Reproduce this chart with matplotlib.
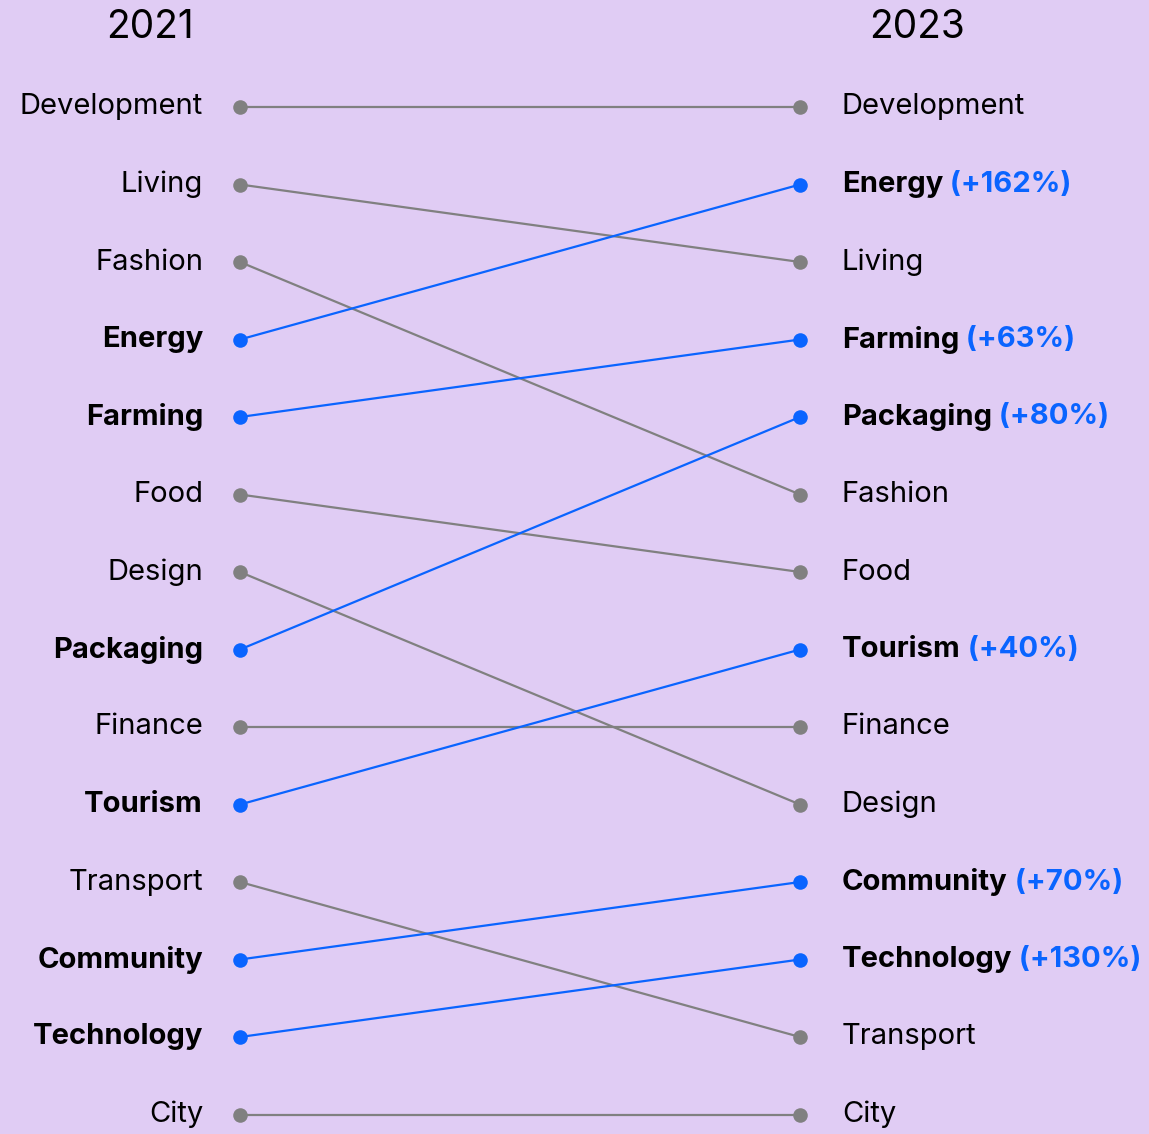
import matplotlib
matplotlib.use("Agg")
import matplotlib.pyplot as plt

# ---------------------------------------------------------------------------
# Data: rank order in each year, plus growth for the highlighted sectors
# ---------------------------------------------------------------------------
rank_2021 = ["Development", "Living", "Fashion", "Energy", "Farming", "Food",
             "Design", "Packaging", "Finance", "Tourism", "Transport",
             "Community", "Technology", "City"]
rank_2023 = ["Development", "Energy", "Living", "Farming", "Packaging",
             "Fashion", "Food", "Tourism", "Finance", "Design", "Community",
             "Technology", "Transport", "City"]
growth_sectors = ["Energy", "Farming", "Packaging", "Tourism", "Community",
                  "Technology"]
growth_pct = [162, 63, 80, 40, 70, 130]

BG = "#e0ccf4"
GREY = "#808080"
BLUE = "#0a64ff"
FONT = ["Inter", "DejaVu Sans"]
FS = 21

growth = dict(zip(growth_sectors, growth_pct))

fig = plt.figure(figsize=(11.49, 11.34), dpi=100, facecolor=BG)
ax = fig.add_axes([0, 0, 1, 1])
ax.set_facecolor(BG)
ax.axis("off")

# map: x=0 -> 240px, x=1 -> 800px ; rank 1 -> 107px, spacing 77.5px
ax.set_xlim(-240 / 560, (1149 - 240) / 560)
ax.set_ylim(1 + (1134 - 107) / 77.5, 1 - 107 / 77.5)

for name in rank_2021:
    r0 = rank_2021.index(name) + 1
    r1 = rank_2023.index(name) + 1
    hi = name in growth
    col = BLUE if hi else GREY
    ax.plot([0, 1], [r0, r1], color=col, lw=1.6, zorder=1)
    ax.scatter([0, 1], [r0, r1], s=110, color=col, zorder=2, linewidths=0)
    weight = "bold" if hi else "normal"
    ax.text(-0.066, r0, name, ha="right", va="center", fontsize=FS,
            fontweight=weight, family=FONT, color="black")
    t = ax.text(1.075, r1, name, ha="left", va="center", fontsize=FS,
                fontweight=weight, family=FONT, color="black")
    if hi:
        ax.annotate(f" (+{growth[name]}%)", xycoords=t, xy=(1, 0.5),
                    ha="left", va="center", fontsize=FS,
                    fontweight="bold", family=FONT, color=BLUE)

ax.text(150 / 1149, 1 - 27 / 1134, "2021", transform=ax.transAxes,
        ha="center", va="center", fontsize=28, family=FONT)
ax.text(917 / 1149, 1 - 27 / 1134, "2023", transform=ax.transAxes,
        ha="center", va="center", fontsize=28, family=FONT)

fig.savefig("out.png", dpi=100, facecolor=BG)
